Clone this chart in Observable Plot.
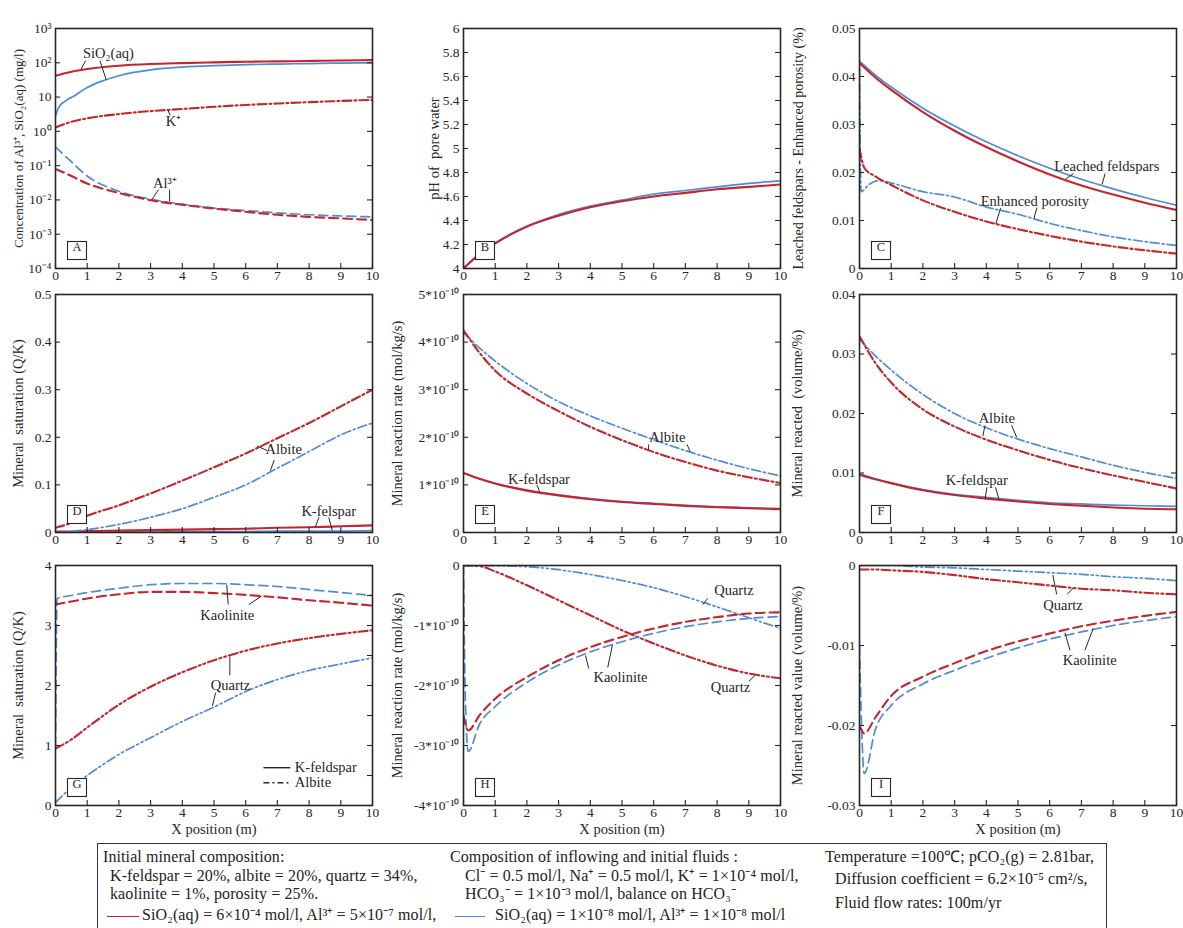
<!DOCTYPE html>
<html><head><meta charset="utf-8">
<script src="https://cdn.jsdelivr.net/npm/d3@7"></script>
<script src="https://cdn.jsdelivr.net/npm/@observablehq/plot@0.6"></script>
<style>
html,body{margin:0;padding:0;background:#fff;}
#fig{position:relative;width:1183px;height:928px;overflow:hidden;background:#fff;font-family:"Liberation Serif","Times New Roman",serif;color:#222;}
#fig svg{position:absolute;overflow:visible;}
.cap{position:absolute;white-space:nowrap;font-size:16px;line-height:16px;letter-spacing:0.1px;color:#222;}
.sw{display:inline-block;vertical-align:middle;height:1.6px;margin-right:3px;}
#box{position:absolute;left:97px;top:843px;width:1008px;height:120px;border:1.5px solid #333;}
</style></head><body><div id="fig"><div id="box"></div></div>
<script>
// ---------- data ----------
const xTicks = [0,1,2,3,4,5,6,7,8,9,10];
const xPos = [0,0.5,1,2,3,4,5,6,7,8,9,10];
const xFine = [0,0.1,0.3,0.6,1,1.5,2,3,4,5,6,7,8,9,10];
const xSpike = [0,0.15,0.5,1,2,3,4,5,6,7,8,9,10];
const xSpike2 = [0,0.05,0.15,0.5,1,2,3,4,5,6,7,8,9,10];
const xPorB = [0,0.05,0.3,0.6,1,2,3,4,5,6,7,8,9,10];
const xKaoG = [0,0.05,0.5,1,2,3,4,5,6,7,8,9,10];

// A: concentrations (mg/l)
const aSiO2Red = [42,55,66,82,92,98,103,107,110,113,117,120];
const aSiO2Blue = [2.8,5,7.5,11,19,30,42,62,75,83,88,92,95,98,100];
const aKRed = [1.3,1.9,2.4,3.2,3.9,4.5,5.2,5.9,6.5,7.1,7.7,8.3];
const aAlBlue = [0.35,0.13,0.05,0.018,0.0105,0.0075,0.0058,0.0049,0.0042,0.0037,0.0034,0.0032];
const aAlRed = [0.08,0.05,0.03,0.016,0.0098,0.0072,0.0056,0.0045,0.0037,0.0032,0.0029,0.0026];
const aTicks = [1e-4,1e-3,1e-2,1e-1,1,10,100,1000];
const aLabels = ["10⁻⁴","10⁻³","10⁻²","10⁻¹","10⁰","10","10²","10³"];
// B: pH
const bPhRed = [4.0,4.12,4.21,4.35,4.44,4.51,4.56,4.60,4.63,4.66,4.68,4.70];
const bPhBlue = [4.0,4.12,4.21,4.35,4.45,4.52,4.57,4.62,4.65,4.68,4.71,4.73];
const bTicks = [4,4.2,4.4,4.6,4.8,5,5.2,5.4,5.6,5.8,6];
const bLabels = ["4","4.2","4.4","4.6","4.8","5","5.2","5.4","5.6","5.8","6"];
// C: leached feldspars / enhanced porosity (%)
const cLeachRed = [0.0428,0.0398,0.0372,0.0326,0.0287,0.0253,0.0223,0.0196,0.0173,0.0154,0.0137,0.0122];
const cLeachBlue = [0.0432,0.0403,0.0378,0.0334,0.0297,0.0264,0.0235,0.0209,0.0186,0.0166,0.0148,0.0132];
const cPorRed = [0.025,0.021,0.0192,0.0174,0.0142,0.0118,0.0098,0.0082,0.0068,0.0056,0.0046,0.0038,0.0031];
const cPorBlue = [0.042,0.016,0.0175,0.0183,0.0178,0.016,0.0149,0.0128,0.0113,0.0094,0.0079,0.0066,0.0056,0.0048];
const cTicks = [0,0.01,0.02,0.03,0.04,0.05];
const cLabels = ["0","0.01","0.02","0.03","0.04","0.05"];
// D: mineral saturation
const dAlbRed = [0.01,0.02,0.035,0.057,0.082,0.109,0.137,0.166,0.198,0.23,0.265,0.3];
const dAlbBlue = [0,0.002,0.006,0.017,0.032,0.05,0.074,0.1,0.135,0.17,0.205,0.23];
const dKfsRed = [0.002,0.002,0.003,0.004,0.005,0.006,0.007,0.008,0.01,0.011,0.013,0.015];
const dKfsBlue = [0,0,0.001,0.001,0.001,0.002,0.002,0.002,0.003,0.003,0.003,0.004];
const dTicks = [0,0.1,0.2,0.3,0.4,0.5];
const dLabels = ["0","0.1","0.2","0.3","0.4","0.5"];
// E: reaction rate (×1e-10 mol/kg/s)
const eAlbRed = [4.25,3.78,3.4,2.92,2.55,2.22,1.94,1.69,1.48,1.3,1.16,1.04];
const eAlbBlue = [4.2,3.88,3.6,3.13,2.75,2.45,2.19,1.95,1.72,1.52,1.34,1.19];
const eKfsRed = [1.25,1.13,1.03,0.88,0.78,0.7,0.64,0.6,0.56,0.53,0.51,0.49];
const eKfsBlue = [1.25,1.13,1.03,0.89,0.79,0.71,0.65,0.61,0.57,0.54,0.52,0.5];
const eTicks = [0,1,2,3,4,5];
const eLabels = ["0","1*10⁻¹⁰","2*10⁻¹⁰","3*10⁻¹⁰","4*10⁻¹⁰","5*10⁻¹⁰"];
// F: mineral reacted (volume %)
const fAlbRed = [0.033,0.0285,0.0252,0.0207,0.0178,0.0156,0.0138,0.0122,0.0108,0.0096,0.0085,0.0074];
const fAlbBlue = [0.0325,0.0297,0.0273,0.0232,0.02,0.0176,0.0157,0.0141,0.0127,0.0113,0.0101,0.0091];
const fKfsRed = [0.0098,0.009,0.0083,0.0071,0.0063,0.0057,0.0052,0.0048,0.0045,0.0042,0.004,0.0039];
const fKfsBlue = [0.0096,0.0089,0.0083,0.0072,0.0064,0.0059,0.0054,0.005,0.0048,0.0046,0.0045,0.0044];
const fTicks = [0,0.01,0.02,0.03,0.04];
const fLabels = ["0","0.01","0.02","0.03","0.04"];
// G: mineral saturation
const gKaoRed = [3.35,3.4,3.45,3.52,3.56,3.56,3.54,3.51,3.47,3.42,3.38,3.33];
const gKaoBlue = [1.0,3.45,3.5,3.55,3.62,3.68,3.7,3.7,3.68,3.65,3.6,3.55,3.5];
const gQtzRed = [0.95,1.1,1.3,1.68,1.98,2.22,2.42,2.58,2.7,2.79,2.86,2.92];
const gQtzBlue = [0.05,0.3,0.5,0.85,1.13,1.4,1.64,1.9,2.1,2.25,2.36,2.46];
const gTicks = [0,1,2,3,4];
const gLabels = ["0","1","2","3","4"];
const gRight = [0,0.5,1,1.5,2,2.5,3,3.5,4];
// H: reaction rate (×1e-10 mol/kg/s)
const hQtzRed = [0,-0.01,-0.1,-0.33,-0.58,-0.83,-1.08,-1.3,-1.5,-1.67,-1.8,-1.88];
const hQtzBlue = [0,0,-0.005,-0.02,-0.07,-0.15,-0.25,-0.37,-0.52,-0.69,-0.87,-1.05];
const hKaoRed = [-2.5,-2.75,-2.5,-2.22,-1.86,-1.58,-1.36,-1.19,-1.05,-0.94,-0.86,-0.8,-0.78];
const hKaoBlue = [0,-2.0,-3.1,-2.65,-2.35,-1.95,-1.66,-1.44,-1.27,-1.13,-1.02,-0.94,-0.88,-0.85];
const hTicks = [-4,-3,-2,-1,0];
const hLabels = ["-4*10⁻¹⁰","-3*10⁻¹⁰","-2*10⁻¹⁰","-1*10⁻¹⁰","0"];
// I: mineral reacted value (volume %)
const iQtzRed = [-0.0005,-0.0005,-0.0006,-0.0008,-0.0012,-0.0017,-0.0021,-0.0025,-0.0029,-0.0031,-0.0034,-0.0036];
const iQtzBlue = [0,0,0,-0.0002,-0.0003,-0.0005,-0.0007,-0.0009,-0.0011,-0.0014,-0.0016,-0.0019];
const iKaoRed = [-0.02,-0.021,-0.019,-0.0163,-0.0139,-0.0122,-0.0107,-0.0095,-0.0085,-0.0076,-0.0069,-0.0063,-0.0058];
const iKaoBlue = [-0.01,-0.018,-0.026,-0.0205,-0.0175,-0.0148,-0.0131,-0.0116,-0.0103,-0.0092,-0.0083,-0.0075,-0.0069,-0.0064];
const iTicks = [-0.03,-0.02,-0.01,0];
const iLabels = ["-0.03","-0.02","-0.01","0"];

// ---------- drawing ----------
const RED = "#c4262e", BLUE = "#4f8bd9", INK = "#262626";
const DASH = "9,5", DASHDOT = "9,3,2,3", DASHDOT2 = "9,3,2,3,2,3";
const FW = 317;
const COLS = [{left:0, ml:55}, {left:385, ml:78}, {left:780, ml:79}];
const ROWS = [{top:0, mt:28, fh:240, mb:22}, {top:270, mt:24, fh:238, mb:22}, {top:540, mt:25, fh:240, mb:40}];
const fig = document.getElementById("fig");

const pts = (xs, ys) => xs.map((x, i) => ({x, y: ys[i]}));
const fmt = (vals, labels) => { const m = new Map(vals.map((v, i) => [v, labels[i]])); return d => m.get(d); };
function curve(xs, ys, color, dash) {
  return Plot.line(pts(xs, ys), {x: "x", y: "y", stroke: color, strokeWidth: color === RED ? 2.1 : 1.7,
    strokeDasharray: dash, curve: "monotone-x", clip: true});
}
function note(x, y, t, extra = {}) {
  return Plot.text([{x, y, t}], {x: "x", y: "y", text: "t", fontSize: 14.5, fill: INK, ...extra});
}
function lead(x1, y1, x2, y2, extra = {}) {
  return Plot.link([{x1, y1, x2, y2}], {x1: "x1", y1: "y1", x2: "x2", y2: "y2", stroke: INK, strokeWidth: 1, ...extra});
}

function panel(col, row, o) {
  const c = COLS[col], r = ROWS[row];
  const width = c.ml + FW + 6, height = r.mt + r.fh + r.mb;
  const tickStyle = {stroke: INK, strokeOpacity: 1, strokeWidth: 1.1};
  const marks = [
    ...o.marks,
    Plot.gridX(xTicks, {...tickStyle, insetTop: r.fh - 5}),
    Plot.gridY(o.yTicks, {...tickStyle, insetRight: FW - 5}),
    Plot.gridY(o.yRight || o.yTicks, {...tickStyle, insetLeft: FW - 5}),
    Plot.axisX(xTicks, {tickSize: 0, tickPadding: 2, label: null}),
    Plot.axisY(o.yTicks, {tickSize: 0, tickPadding: 4, label: null, tickFormat: o.yFormat}),
    Plot.frame({stroke: INK, strokeWidth: 1.6}),
    Plot.frame({fill: "white", stroke: INK, strokeWidth: 1.1, insetLeft: 12, insetRight: FW - 31, insetTop: r.fh - 27, insetBottom: 9}),
    Plot.text([o.letter], {text: d => d, frameAnchor: "bottom-left", textAnchor: "middle", dx: 21.5, dy: -17.5, fontSize: 12.5}),
    Plot.text([o.ylabel], {text: d => d, frameAnchor: "left", textAnchor: "middle", lineAnchor: "middle", rotate: -90, dx: o.ylx - c.left - c.ml, fontSize: o.ylSize || 14.5})
  ];
  if (row === 2) marks.push(Plot.text(["X position (m)"], {text: d => d, frameAnchor: "bottom", dy: 28, fontSize: 14.5}));
  const svg = Plot.plot({
    width, height, marginLeft: c.ml, marginRight: 6, marginTop: r.mt, marginBottom: r.mb,
    x: {domain: [0, 10], axis: null},
    y: {...o.y, axis: null},
    style: {fontFamily: '"Liberation Serif", "Times New Roman", serif', fontSize: "13.5px", background: "transparent", color: INK, overflow: "visible"},
    marks
  });
  svg.style.left = c.left + "px";
  svg.style.top = r.top + "px";
  fig.append(svg);
}

// A
panel(0, 0, {
  y: {type: "log", domain: [1e-4, 1e3]}, yTicks: aTicks, yFormat: fmt(aTicks, aLabels), letter: "A",
  ylabel: "Concentration of Al³⁺, SiO₂(aq) (mg/l)", ylx: 18, ylSize: 13,
  marks: [
    curve(xPos, aAlBlue, BLUE, DASH), curve(xPos, aAlRed, RED, DASH),
    curve(xFine, aSiO2Blue, BLUE), curve(xPos, aSiO2Red, RED),
    curve(xPos, aKRed, RED, DASHDOT),
    note(1.67, 186, "SiO₂(aq)"), lead(0.95, 115, 0.8, 64), lead(1.4, 115, 1.6, 32),
    note(3.72, 2.0, "K⁺"), lead(3.62, 2.9, 3.55, 4.1),
    note(3.45, 0.03, "Al³⁺"), lead(3.25, 0.02, 3.05, 0.0105), lead(3.6, 0.02, 3.6, 0.0092)
  ]
});
// B
panel(1, 0, {
  y: {domain: [4, 6]}, yTicks: bTicks, yFormat: fmt(bTicks, bLabels), letter: "B",
  ylabel: "pH of  pore water", ylx: 434,
  marks: [curve(xPos, bPhBlue, BLUE), curve(xPos, bPhRed, RED)]
});
// C
panel(2, 0, {
  y: {domain: [0, 0.05]}, yTicks: cTicks, yFormat: fmt(cTicks, cLabels), letter: "C",
  ylabel: "Leached feldspars - Enhanced porosity (%)", ylx: 798, ylSize: 14,
  marks: [
    curve(xPos, cLeachBlue, BLUE), curve(xPos, cLeachRed, RED),
    curve(xPorB, cPorBlue, BLUE, DASHDOT), curve(xSpike, cPorRed, RED, DASHDOT),
    note(7.8, 0.0213, "Leached feldspars"), lead(6.75, 0.0198, 6.5, 0.0186), lead(7.75, 0.0198, 7.65, 0.0175),
    note(5.53, 0.0139, "Enhanced porosity"), lead(4.45, 0.0126, 4.3, 0.0093), lead(5.6, 0.0127, 5.5, 0.0104)
  ]
});
// D
panel(0, 1, {
  y: {domain: [0, 0.5]}, yTicks: dTicks, yFormat: fmt(dTicks, dLabels), letter: "D",
  ylabel: "Mineral  saturation (Q/K)", ylx: 18,
  marks: [
    curve(xPos, dKfsBlue, BLUE), curve(xPos, dKfsRed, RED),
    curve(xPos, dAlbBlue, BLUE, DASHDOT), curve(xPos, dAlbRed, RED, DASHDOT),
    note(7.2, 0.174, "Albite"), lead(6.68, 0.172, 6.35, 0.182), lead(6.9, 0.152, 6.78, 0.13),
    note(8.62, 0.044, "K-felspar"), lead(8.31, 0.032, 8.2, 0.012), lead(8.62, 0.032, 8.73, 0.004)
  ]
});
// E
panel(1, 1, {
  y: {domain: [0, 5]}, yTicks: eTicks, yFormat: fmt(eTicks, eLabels), letter: "E",
  ylabel: "Mineral reaction rate (mol/kg/s)", ylx: 397,
  marks: [
    curve(xPos, eAlbBlue, BLUE, DASHDOT), curve(xPos, eAlbRed, RED, DASHDOT),
    curve(xPos, eKfsBlue, BLUE), curve(xPos, eKfsRed, RED),
    note(6.43, 2.0, "Albite"), lead(5.84, 1.85, 5.84, 1.73), lead(7.05, 1.85, 7.15, 1.7),
    note(2.38, 1.12, "K-feldspar"), lead(2.32, 1.0, 2.4, 0.85)
  ]
});
// F
panel(2, 1, {
  y: {domain: [0, 0.04]}, yTicks: fTicks, yFormat: fmt(fTicks, fLabels), letter: "F",
  ylabel: "Mineral reacted  (volume/%)", ylx: 797,
  marks: [
    curve(xPos, fAlbBlue, BLUE, DASHDOT), curve(xPos, fAlbRed, RED, DASHDOT),
    curve(xPos, fKfsBlue, BLUE), curve(xPos, fKfsRed, RED),
    note(4.33, 0.0192, "Albite"), lead(3.96, 0.018, 3.89, 0.0162), lead(4.8, 0.018, 4.96, 0.016),
    note(3.7, 0.0087, "K-feldspar"), lead(4.02, 0.0076, 3.96, 0.0056), lead(4.29, 0.0076, 4.4, 0.0056)
  ]
});
// G
panel(0, 2, {
  y: {domain: [0, 4]}, yTicks: gTicks, yRight: gRight, yFormat: fmt(gTicks, gLabels), letter: "G",
  ylabel: "Mineral  saturation (Q/K)", ylx: 18,
  marks: [
    curve(xKaoG, gKaoBlue, BLUE, DASH), curve(xPos, gKaoRed, RED, DASH),
    curve(xPos, gQtzBlue, BLUE, DASHDOT2), curve(xPos, gQtzRed, RED, DASHDOT2),
    note(5.42, 3.17, "Kaolinite"), lead(5.45, 3.35, 5.4, 3.68), lead(6.1, 3.35, 6.5, 3.49),
    note(5.52, 2.0, "Quartz"), lead(5.5, 2.17, 5.5, 2.48), lead(5.05, 1.88, 4.95, 1.66),
    lead(6.56, 0.63, 7.41, 0.63, {strokeWidth: 1.4}), lead(6.56, 0.38, 7.41, 0.38, {strokeWidth: 1.4, strokeDasharray: "6,3,2,3"}),
    note(7.55, 0.63, "K-feldspar", {textAnchor: "start"}), note(7.55, 0.38, "Albite", {textAnchor: "start"})
  ]
});
// H
panel(1, 2, {
  y: {domain: [-4, 0]}, yTicks: hTicks, yFormat: fmt(hTicks, hLabels), letter: "H",
  ylabel: "Mineral reaction rate (mol/kg/s)", ylx: 397,
  marks: [
    curve(xPos, hQtzBlue, BLUE, DASHDOT2), curve(xPos, hQtzRed, RED, DASHDOT2),
    curve(xSpike2, hKaoBlue, BLUE, DASH), curve(xSpike, hKaoRed, RED, DASH),
    note(8.53, -0.42, "Quartz"), lead(7.7, -0.55, 7.55, -0.65),
    note(8.42, -2.03, "Quartz"), lead(9.0, -1.93, 9.2, -1.83),
    note(4.95, -1.86, "Kaolinite"), lead(3.95, -1.72, 3.85, -1.5), lead(4.55, -1.7, 4.7, -1.32)
  ]
});
// I
panel(2, 2, {
  y: {domain: [-0.03, 0]}, yTicks: iTicks, yFormat: fmt(iTicks, iLabels), letter: "I",
  ylabel: "Mineral reacted value (volume/%)", ylx: 797,
  marks: [
    curve(xPos, iQtzBlue, BLUE, DASHDOT2), curve(xPos, iQtzRed, RED, DASHDOT2),
    curve(xSpike2, iKaoBlue, BLUE, DASH), curve(xSpike, iKaoRed, RED, DASH),
    note(6.42, -0.005, "Quartz"), lead(6.22, -0.0036, 6.1, -0.0012), lead(6.55, -0.0036, 6.75, -0.0028),
    note(7.26, -0.0119, "Kaolinite"), lead(6.64, -0.0106, 6.48, -0.0084), lead(7.11, -0.0106, 7.37, -0.0079)
  ]
});

// ---------- caption ----------
const capLines = [
  [103, 849, "Initial mineral composition:"],
  [110, 868, "K-feldspar = 20%, albite = 20%, quartz = 34%,"],
  [110, 886, "kaolinite = 1%, porosity = 25%."],
  [107, 907, `<span class="sw" style="width:32px;background:${RED}"></span>SiO₂(aq) = 6×10⁻⁴ mol/l,  Al³⁺ = 5×10⁻⁷ mol/l,`],
  [450, 849, "Composition of inflowing and initial fluids :"],
  [465, 868, "Cl⁻ = 0.5 mol/l,  Na⁺ = 0.5 mol/l,  K⁺ = 1×10⁻⁴ mol/l,"],
  [465, 886, "HCO₃⁻ = 1×10⁻³ mol/l,  balance on HCO₃⁻"],
  [455, 907, `<span class="sw" style="width:30px;background:${BLUE};margin-right:10px"></span>SiO₂(aq) = 1×10⁻⁸ mol/l,  Al³⁺ = 1×10⁻⁸ mol/l`],
  [825, 849, "Temperature =100℃; pCO₂(g) = 2.81bar,"],
  [835, 871, "Diffusion coefficient = 6.2×10⁻⁵ cm²/s,"],
  [835, 895, "Fluid flow rates:  100m/yr"]
];
for (const [x, y, html] of capLines) {
  const d = document.createElement("div");
  d.className = "cap";
  d.style.left = x + "px";
  d.style.top = y + "px";
  d.innerHTML = html;
  fig.append(d);
}
</script></body></html>
